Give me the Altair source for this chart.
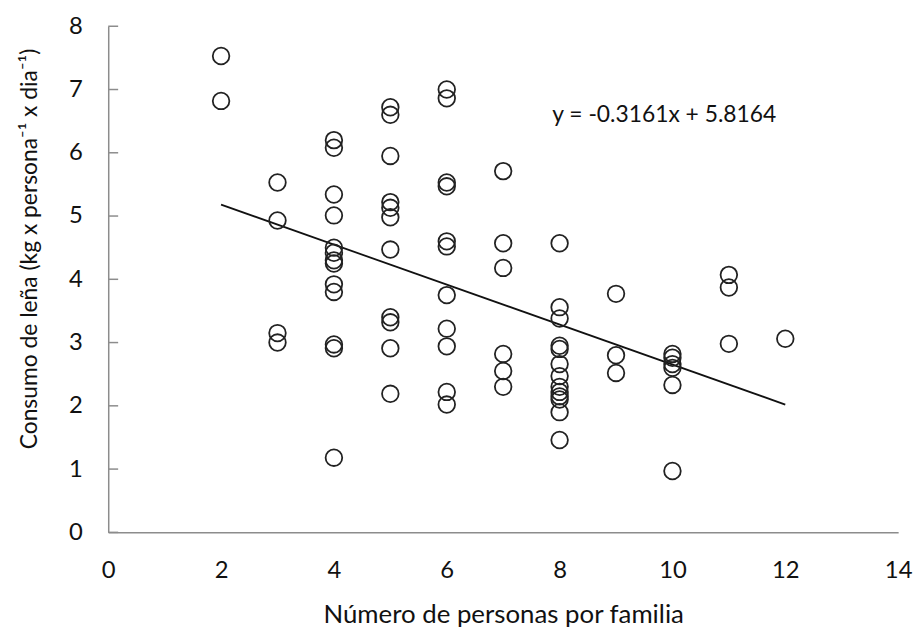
import altair as alt
import pandas as pd

# Scatter data
personas = (
    [2, 2]
    + [3] * 4
    + [4] * 13
    + [5] * 11
    + [6] * 11
    + [7] * 6
    + [8] * 13
    + [9] * 3
    + [10] * 6
    + [11] * 3
    + [12]
)
consumo = (
    [7.53, 6.82]
    + [5.53, 4.93, 3.15, 3.00]
    + [6.20, 6.08, 5.34, 5.01, 4.50, 4.42, 4.30, 4.25, 3.92, 3.80, 2.97, 2.91, 1.18]
    + [6.72, 6.60, 5.95, 5.22, 5.13, 4.98, 4.47, 3.40, 3.32, 2.91, 2.19]
    + [7.00, 6.86, 5.53, 5.47, 4.60, 4.52, 3.75, 3.22, 2.94, 2.22, 2.02]
    + [5.71, 4.57, 4.18, 2.82, 2.55, 2.30]
    + [4.57, 3.56, 3.38, 2.95, 2.90, 2.66, 2.47, 2.30, 2.22, 2.15, 2.10, 1.90, 1.46]
    + [3.77, 2.80, 2.52]
    + [2.82, 2.76, 2.66, 2.60, 2.33, 0.97]
    + [4.07, 3.87, 2.98]
    + [3.06]
)

# Trend line endpoints
line_x = [2, 12]
line_y = [5.18, 2.02]

# Axis ticks
x_ticks = [0, 2, 4, 6, 8, 10, 12, 14]
y_ticks = [0, 1, 2, 3, 4, 5, 6, 7, 8]

equation = "y = -0.3161x + 5.8164"
eq_x = [7.87]
eq_y = [6.49]

FONT = "Lato"

pts = pd.DataFrame({"x": personas, "y": consumo})
trend = pd.DataFrame({"x": line_x, "y": line_y})
ticks = pd.DataFrame({"t": y_ticks})
eq = pd.DataFrame({"x": eq_x, "y": eq_y, "label": [equation]})

xscale = alt.Scale(domain=[0, 14], nice=False, zero=False)
yscale = alt.Scale(domain=[0, 8], nice=False, zero=False)

xaxis = alt.Axis(
    values=x_ticks,
    format="d",
    title="Número de personas por familia",
    ticks=False,
    grid=False,
    labelFlush=False,
    domainColor="#8c8c8c",
    domainWidth=1.5,
    labelFont=FONT,
    labelFontSize=24,
    labelColor="#111",
    labelPadding=26,
    titleFont=FONT,
    titleFontSize=26,
    titleFontWeight="normal",
    titleColor="#111",
    titlePadding=20,
)
yaxis = alt.Axis(
    values=y_ticks,
    format="d",
    title="Consumo de leña (kg x persona⁻¹ x dia⁻¹)",
    ticks=False,
    grid=False,
    domainColor="#8c8c8c",
    domainWidth=1.5,
    labelFont=FONT,
    labelFontSize=24,
    labelColor="#111",
    labelPadding=26,
    titleFont=FONT,
    titleFontSize=23,
    titleFontWeight="normal",
    titleColor="#111",
    titleX=-79,
    titleY=224,
    titleAlign="center",
    titleBaseline="middle",
    titleAngle=270,
)

points = alt.Chart(pts).mark_point(
    shape="circle", filled=False, stroke="#222", strokeWidth=1.8, size=280, opacity=1
).encode(
    x=alt.X("x:Q", scale=xscale, axis=xaxis),
    y=alt.Y("y:Q", scale=yscale, axis=yaxis),
)

line = alt.Chart(trend).mark_line(color="#111", strokeWidth=1.8).encode(
    x=alt.X("x:Q", scale=xscale),
    y=alt.Y("y:Q", scale=yscale),
)

tick_marks = alt.Chart(ticks).mark_rule(color="#8c8c8c", strokeWidth=1.5).encode(
    x=alt.value(0),
    x2=alt.value(10),
    y=alt.Y("t:Q", scale=yscale),
)

text = alt.Chart(eq).mark_text(
    align="left", baseline="alphabetic", font=FONT, fontSize=23, color="#111"
).encode(
    x=alt.X("x:Q", scale=xscale),
    y=alt.Y("y:Q", scale=yscale),
    text="label:N",
)

chart = (
    alt.layer(tick_marks, line, points, text)
    .properties(
        width=796,
        height=510,
        autosize=alt.AutoSizeParams(type="none"),
        padding={"left": 101, "top": 16, "right": 18, "bottom": 95},
        background="white",
    )
    .configure_view(strokeOpacity=0)
)

chart.save("out.html", embed_options={"renderer": "svg", "actions": False})
